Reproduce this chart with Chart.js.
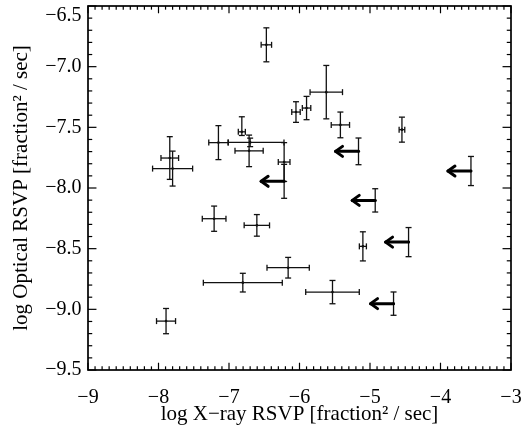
<!DOCTYPE html>
<html>
<head>
<meta charset="utf-8">
<script src="https://cdn.jsdelivr.net/npm/chart.js@4.4.1/dist/chart.umd.min.js"></script>
<style>
  html, body { margin: 0; padding: 0; background: #fff; }
  canvas { display: block; }
</style>
</head>
<body>
<canvas id="c" width="523" height="429"></canvas>
<script>
// ---- data (log X-ray RSVP, log Optical RSVP) ----
const xVals = [-6.47, -5.62, -6.05, -5.90, -5.42, -4.547, -5.163, -3.568,
               -7.84, -7.80, -7.15, -6.818, -6.70, -6.715, -6.218, -6.218,
               -4.926, -7.211, -6.605, -5.101, -4.453, -6.161, -6.804, -5.532,
               -4.666, -7.893];
const yVals = [-6.82, -7.21, -7.374, -7.341, -7.48, -7.519, -7.698, -7.860,
               -7.753, -7.84, -7.626, -7.537, -7.624, -7.694, -7.786, -7.945,
               -8.102, -8.253, -8.308, -8.481, -8.446, -8.657, -8.780, -8.858,
               -8.953, -9.097];
const xErrMinus = [0.074, 0.23, 0.06, 0.06, 0.13, 0.04, 0, 0,
                   0.125, 0.284, 0.137, 0.05, 0.31, 0.20, 0.083, 0,
                   0, 0.168, 0.18, 0.05, 0, 0.30, 0.56, 0.38,
                   0, 0.135];
const xErrPlus  = [0.074, 0.23, 0.06, 0.06, 0.13, 0.04, 0, 0,
                   0.125, 0.284, 0.137, 0.05, 0.48, 0.20, 0.083, 0,
                   0, 0.168, 0.18, 0.05, 0, 0.30, 0.56, 0.38,
                   0, 0.135];
const yErrMinus = [0.14, 0.22, 0.085, 0.096, 0.106, 0.103, 0.11, 0.12,
                   0.176, 0.144, 0.14, 0.03, 0.035, 0.13, 0.16, 0.14,
                   0.096, 0.104, 0.089, 0.12, 0.12, 0.085, 0.077, 0.096,
                   0.096, 0.104];
const yErrPlus  = [0.14, 0.22, 0.085, 0.096, 0.106, 0.103, 0.11, 0.12,
                   0.176, 0.144, 0.14, 0.124, 0.035, 0.13, 0.16, 0.14,
                   0.096, 0.104, 0.089, 0.12, 0.12, 0.085, 0.077, 0.096,
                   0.096, 0.104];
// true = X-ray upper limit (drawn as a left arrow)
const upperLimit = [false, false, false, false, false, false, true, true,
                    false, false, false, false, false, false, false, true,
                    true, false, false, false, true, false, false, false,
                    true, false];
const xMin = -9, xMax = -3, xStep = 1, xMinorDiv = 10;
const yMin = -9.5, yMax = -6.5, yStep = 0.5, yMinorDiv = 5;
const xTitle = 'log X\u2212ray RSVP [fraction\u00b2 / sec]';
const yTitle = 'log Optical RSVP [fraction\u00b2 / sec]';

const FONT = 'Liberation Serif';
const TICK_SIZE = 20;
const minus = s => s.replace('-', '\u2212');

const errorBars = {
  id: 'errorBars',
  afterDatasetsDraw(chart) {
    const { ctx, scales: { x, y } } = chart;
    const cap = 3;
    ctx.save();
    ctx.strokeStyle = '#111';
    ctx.lineWidth = 1.3;
    const seg = (a, b, c, d) => { ctx.beginPath(); ctx.moveTo(a, b); ctx.lineTo(c, d); ctx.stroke(); };
    for (let i = 0; i < xVals.length; i++) {
      const px = x.getPixelForValue(xVals[i]);
      const py = y.getPixelForValue(yVals[i]);
      if (xErrMinus[i] > 0 || xErrPlus[i] > 0) {
        const x1 = x.getPixelForValue(xVals[i] - xErrMinus[i]);
        const x2 = x.getPixelForValue(xVals[i] + xErrPlus[i]);
        seg(x1, py, x2, py);
        seg(x1, py - cap, x1, py + cap);
        seg(x2, py - cap, x2, py + cap);
      }
      if (yErrMinus[i] > 0 || yErrPlus[i] > 0) {
        const y1 = y.getPixelForValue(yVals[i] - yErrMinus[i]);
        const y2 = y.getPixelForValue(yVals[i] + yErrPlus[i]);
        seg(px, y1, px, y2);
        seg(px - cap, y1, px + cap, y1);
        seg(px - cap, y2, px + cap, y2);
      }
      if (upperLimit[i]) {
        const len = 23, head = 7, hw = 5;
        ctx.save();
        ctx.lineWidth = 3;
        ctx.strokeStyle = '#000';
        ctx.lineCap = 'round';
        ctx.lineJoin = 'round';
        seg(px, py, px - len, py);
        ctx.beginPath();
        ctx.moveTo(px - len + head, py - hw);
        ctx.lineTo(px - len, py);
        ctx.lineTo(px - len + head, py + hw);
        ctx.stroke();
        ctx.restore();
      }
    }
    ctx.restore();
  }
};

const frame = {
  id: 'frame',
  afterDraw(chart) {
    const { ctx, chartArea: a, scales: { x, y } } = chart;
    ctx.save();
    ctx.strokeStyle = '#000';
    const seg = (p, q, r, s) => { ctx.beginPath(); ctx.moveTo(p, q); ctx.lineTo(r, s); ctx.stroke(); };
    const w = a.right - a.left, h = a.bottom - a.top;
    const xMaj = 0.02 * h, yMaj = 0.02 * w;
    ctx.lineWidth = 1.2;
    const xt = x.ticks.map(t => t.value);
    xt.forEach((v, i) => {
      const px = x.getPixelForValue(v);
      seg(px, a.bottom, px, a.bottom - xMaj);
      seg(px, a.top, px, a.top + xMaj);
      if (i < xt.length - 1) {
        for (let k = 1; k < xMinorDiv; k++) {
          const m = x.getPixelForValue(v + (xt[i + 1] - v) * k / xMinorDiv);
          seg(m, a.bottom, m, a.bottom - xMaj / 2);
          seg(m, a.top, m, a.top + xMaj / 2);
        }
      }
    });
    const yt = y.ticks.map(t => t.value);
    yt.forEach((v, i) => {
      const py = y.getPixelForValue(v);
      seg(a.left, py, a.left + yMaj, py);
      seg(a.right, py, a.right - yMaj, py);
      if (i < yt.length - 1) {
        for (let k = 1; k < yMinorDiv; k++) {
          const m = y.getPixelForValue(v + (yt[i + 1] - v) * k / yMinorDiv);
          seg(a.left, m, a.left + yMaj / 2, m);
          seg(a.right, m, a.right - yMaj / 2, m);
        }
      }
    });
    ctx.lineWidth = 1.7;
    ctx.strokeRect(a.left, a.top, w, h);
    // top y label kept inside the frame (as in the original)
    const topVal = yt[yt.length - 1];
    ctx.font = TICK_SIZE + 'px "' + FONT + '"';
    ctx.fillStyle = '#000';
    ctx.textAlign = 'right';
    ctx.textBaseline = 'middle';
    ctx.fillText(minus(topVal.toFixed(1)), a.left - 6.5, Math.max(y.getPixelForValue(topVal), a.top + 10));
    ctx.restore();
  }
};

new Chart(document.getElementById('c'), {
  type: 'scatter',
  data: {
    datasets: [{
      data: xVals.map((v, i) => ({ x: v, y: yVals[i] })),
      pointRadius: 1.3,
      pointBackgroundColor: '#000',
      pointBorderWidth: 0
    }]
  },
  options: {
    responsive: false,
    animation: false,
    devicePixelRatio: 1,
    layout: { padding: { top: 6, right: 12, left: 0, bottom: 0 } },
    plugins: { legend: { display: false }, tooltip: { enabled: false } },
    scales: {
      x: {
        type: 'linear', min: xMin, max: xMax,
        grid: { display: false, drawTicks: false },
        border: { display: false },
        ticks: {
          stepSize: xStep, autoSkip: false, maxRotation: 0, padding: 16,
          color: '#000', font: { family: FONT, size: TICK_SIZE },
          callback: v => minus(String(v))
        },
        title: {
          display: true, text: xTitle, color: '#000',
          font: { family: FONT, size: 21 }, padding: { top: 0, bottom: 2 }
        },
        afterFit(s) { s.height = 59; s.paddingLeft = 0; s.paddingRight = 0; }
      },
      y: {
        type: 'linear', min: yMin, max: yMax,
        grid: { display: false, drawTicks: false },
        border: { display: false },
        ticks: {
          stepSize: yStep, autoSkip: false, padding: 6.5,
          color: '#000', font: { family: FONT, size: TICK_SIZE },
          callback: v => (v === yMax ? '' : minus(v.toFixed(1)))
        },
        title: {
          display: true, text: yTitle, color: '#000',
          font: { family: FONT, size: 21 }, padding: { top: 9, bottom: 0 }
        },
        afterFit(s) { s.width = 88; s.paddingTop = 0; s.paddingBottom = 0; }
      }
    }
  },
  plugins: [errorBars, frame]
});
</script>
</body>
</html>
